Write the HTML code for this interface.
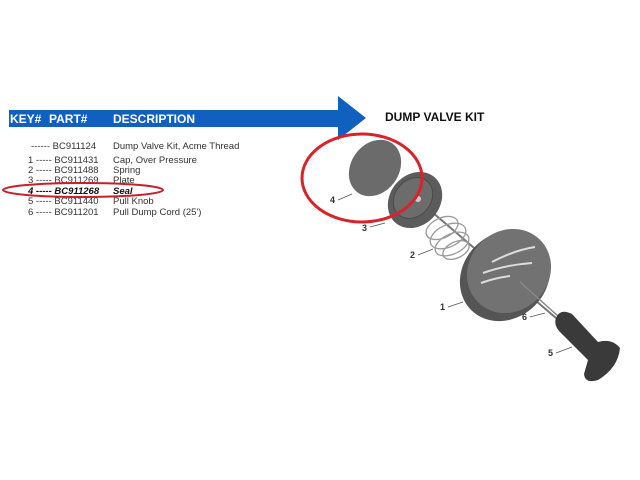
<!DOCTYPE html>
<html><head><style>body{margin:0;background:#fff}svg{display:block}</style></head><body>
<svg width="640" height="480" viewBox="0 0 640 480" xmlns="http://www.w3.org/2000/svg" font-family="Liberation Sans, sans-serif">
<rect width="640" height="480" fill="#fff"/>
<polygon points="9,110 338,110 338,96 366,118 338,140 338,127 9,127" fill="#1060c0"/>
<g fill="#fff" font-weight="bold" font-size="12">
<text x="10" y="123">KEY#</text><text x="49" y="123">PART#</text><text x="113" y="123">DESCRIPTION</text></g>
<text x="385" y="121" font-weight="bold" font-size="12" fill="#111">DUMP VALVE KIT</text>
<g font-size="9.5" fill="#333">
<text x="31" y="149">------ BC911124</text><text x="113" y="149">Dump Valve Kit, Acme Thread</text>
<text x="28" y="163">1 ----- BC911431</text><text x="113" y="163">Cap, Over Pressure</text>
<text x="28" y="173">2 ----- BC911488</text><text x="113" y="173">Spring</text>
<text x="28" y="183">3 ----- BC911269</text><text x="113" y="183">Plate</text>
<text x="28" y="194" font-weight="bold" font-style="italic" fill="#111">4 ----- BC911268</text><text x="113" y="194" font-weight="bold" font-style="italic" fill="#111">Seal</text>
<text x="28" y="204">5 ----- BC911440</text><text x="113" y="204">Pull Knob</text>
<text x="28" y="215">6 ----- BC911201</text><text x="113" y="215">Pull Dump Cord (25')</text>
</g>
<ellipse cx="83" cy="190" rx="80" ry="7" fill="none" stroke="#c8202a" stroke-width="2"/>
<!-- rod -->
<line x1="418" y1="200" x2="570" y2="330" stroke="#777" stroke-width="2"/>
<!-- spring -->
<g fill="none" stroke="#999" stroke-width="1.3">
<ellipse cx="442" cy="228" rx="17" ry="10" transform="rotate(-25 442 228)"/>
<ellipse cx="448" cy="236" rx="19" ry="11" transform="rotate(-25 448 236)"/>
<ellipse cx="452" cy="244" rx="18" ry="10" transform="rotate(-25 452 244)"/>
<ellipse cx="456" cy="250" rx="14" ry="8" transform="rotate(-25 456 250)"/>
</g>
<!-- plate -->
<ellipse cx="415" cy="200" rx="25" ry="30" transform="rotate(40 415 200)" fill="#5c5c5c"/>
<ellipse cx="413" cy="198" rx="18" ry="22" transform="rotate(40 413 198)" fill="#6c6c6c" stroke="#4a4a4a"/>
<circle cx="418" cy="199" r="3" fill="#ccc"/>
<!-- seal -->
<ellipse cx="375" cy="168" rx="24" ry="30" transform="rotate(35 375 168)" fill="#6b6b6b"/>
<!-- cap -->
<ellipse cx="505" cy="276" rx="42" ry="48" transform="rotate(45 505 276)" fill="#555"/>
<ellipse cx="509" cy="271" rx="40" ry="44" transform="rotate(45 509 271)" fill="#727272"/>
<g stroke="#ddd" stroke-width="2" fill="none"><path d="M492,262 Q515,250 535,247"/><path d="M483,273 Q505,265 532,263"/><path d="M481,283 Q495,278 510,276"/></g>
<line x1="520" y1="282" x2="558" y2="316" stroke="#888" stroke-width="1.5"/>
<!-- knob -->
<path d="M556,318 Q560,308 572,314 L598,342 Q612,338 620,348 Q618,368 598,380 Q585,384 584,374 L588,360 L562,334 Q553,326 556,318 Z" fill="#3a3a3a"/>
<ellipse cx="362" cy="178" rx="60" ry="44" fill="none" stroke="#d8232a" stroke-width="3"/>
<g font-size="9" font-weight="bold" fill="#333">
<text x="330" y="203">4</text><text x="362" y="231">3</text><text x="410" y="258">2</text><text x="440" y="310">1</text><text x="522" y="320">6</text><text x="548" y="356">5</text></g>
<g stroke="#555" stroke-width="0.8">
<line x1="338" y1="200" x2="352" y2="194"/><line x1="370" y1="227" x2="385" y2="223"/><line x1="418" y1="255" x2="433" y2="249"/><line x1="448" y1="307" x2="463" y2="302"/><line x1="530" y1="317" x2="545" y2="313"/><line x1="556" y1="353" x2="572" y2="347"/></g>
</svg>
</body></html>
